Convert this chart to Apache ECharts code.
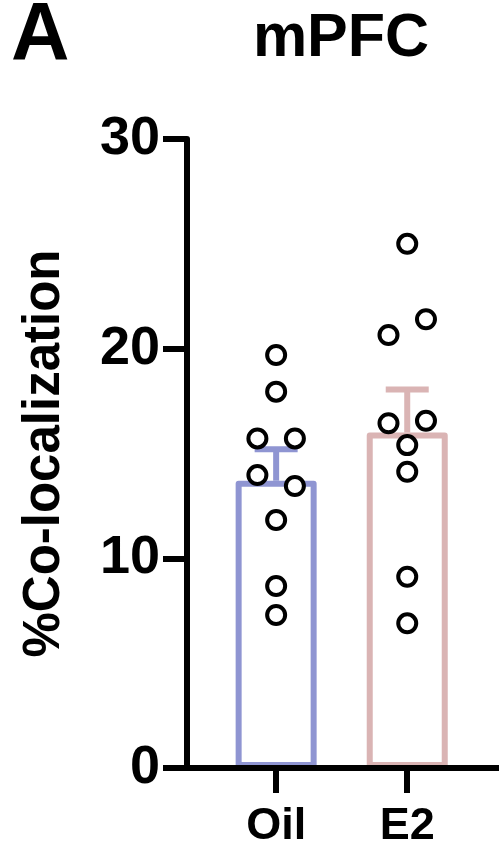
<!DOCTYPE html>
<html>
<head>
<meta charset="utf-8">
<script src="https://cdn.jsdelivr.net/npm/echarts@6/dist/echarts.min.js"></script>
<style>
  html, body { margin: 0; padding: 0; background: #fff; }
  #chart { width: 499px; height: 849px; }
</style>
</head>
<body>
<div id="chart"></div>
<script>
// Groups and their summary statistics (mean, SEM)
const groups = ['Oil', 'E2'];
const means = [13.7, 16.0];
const sems = [1.5, 2.05];

// Individual animals per group
const oilValues = [19.7, 17.95, 15.72, 15.72, 13.97, 13.45, 11.83, 8.68, 7.3];
const oilLanes  = [0, 0, -1, 1, -1, 1, 0, 0, 0];
const e2Values  = [25.0, 21.4, 20.65, 16.56, 16.44, 15.4, 14.13, 9.12, 6.9];
const e2Lanes   = [0, 1, -1, 1, -1, 0, 0, 0, 0];

// y-axis ticks
const yTicks = [0, 10, 20, 30];

const groupColors = ['#8f95d2', '#dab4b4'];
const laneStep = 0.143;
const fontFamily = '"Liberation Sans", Arial, Helvetica, sans-serif';

const chart = echarts.init(document.getElementById('chart'));

function toPoints(values, lanes, pos) {
  return values.map((v, i) => [pos + lanes[i] * laneStep, v]);
}

const option = {
  backgroundColor: '#ffffff',
  animation: false,
  title: {
    text: 'mPFC',
    left: 336,
    top: 4,
    textAlign: 'center',
    textStyle: { fontFamily, fontWeight: 'bold', fontSize: 61, color: '#000' }
  },
  graphic: [{
    type: 'text',
    left: 11,
    top: -4,
    style: { text: 'A', fontFamily, fontWeight: 'bold', fontSize: 81, fill: '#000' }
  }],
  grid: { left: 187, right: 0, top: 139, bottom: 81, containLabel: false, outerBoundsMode: 'none' },
  xAxis: {
    type: 'value',
    min: 0.32,
    max: 2.7,
    z: 10,
    splitLine: { show: false },
    axisLine: { show: true, onZero: false, lineStyle: { color: '#000', width: 6 } },
    axisTick: { show: true, customValues: [1, 2], length: 25, lineStyle: { color: '#000', width: 6 } },
    axisLabel: {
      customValues: [1, 2],
      formatter: v => groups[Math.round(v) - 1] || '',
      margin: 36,
      fontFamily, fontWeight: 'bold', fontSize: 45, color: '#000'
    }
  },
  yAxis: {
    type: 'value',
    min: yTicks[0],
    max: yTicks[yTicks.length - 1],
    interval: 10,
    z: 10,
    name: '%Co-localization',
    nameLocation: 'middle',
    nameRotate: 90,
    nameGap: 117,
    nameTextStyle: { fontFamily, fontWeight: 'bold', fontSize: 51, color: '#000' },
    splitLine: { show: false },
    axisLine: { show: true, lineStyle: { color: '#000', width: 6 } },
    axisTick: { show: true, length: 24, lineStyle: { color: '#000', width: 6 } },
    axisLabel: { margin: 27, fontFamily, fontWeight: 'bold', fontSize: 54, color: '#000' }
  },
  series: [
    {
      type: 'bar',
      barWidth: 81,
      z: 2,
      data: means.map((m, i) => ({
        value: [i + 1, m],
        itemStyle: { color: '#ffffff', borderColor: groupColors[i], borderWidth: 6, borderJoin: 'round' }
      }))
    },
    {
      type: 'custom',
      z: 3,
      data: means.map((m, i) => [i + 1, m, m + sems[i]]),
      renderItem: function (params, api) {
        const idx = params.dataIndex;
        const base = api.coord([api.value(0), api.value(1)]);
        const top = api.coord([api.value(0), api.value(2)]);
        const half = 21.5;
        const style = { stroke: groupColors[idx], lineWidth: 6 };
        return {
          type: 'group',
          children: [
            { type: 'line', shape: { x1: base[0], y1: base[1], x2: top[0], y2: top[1] }, style },
            { type: 'line', shape: { x1: top[0] - half, y1: top[1], x2: top[0] + half, y2: top[1] }, style }
          ]
        };
      }
    },
    {
      type: 'scatter',
      z: 4,
      symbol: 'circle',
      symbolSize: 18,
      itemStyle: { color: '#ffffff', borderColor: '#000', borderWidth: 4, opacity: 1 },
      data: toPoints(oilValues, oilLanes, 1)
    },
    {
      type: 'scatter',
      z: 4,
      symbol: 'circle',
      symbolSize: 18,
      itemStyle: { color: '#ffffff', borderColor: '#000', borderWidth: 4, opacity: 1 },
      data: toPoints(e2Values, e2Lanes, 2)
    }
  ]
};

chart.setOption(option);
</script>
</body>
</html>
